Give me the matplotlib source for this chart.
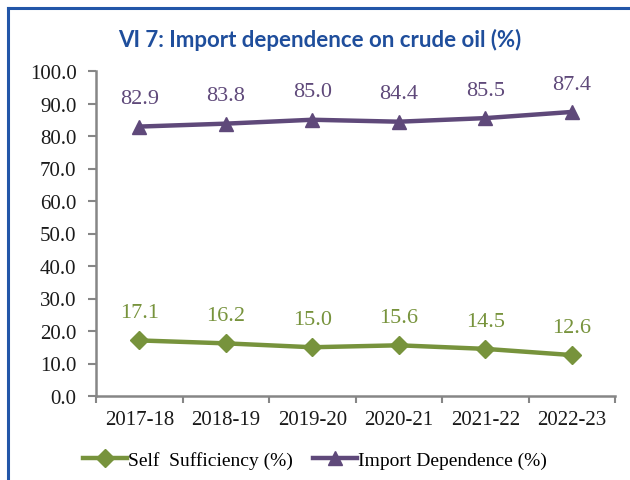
import matplotlib
matplotlib.use('Agg')
import matplotlib.pyplot as plt
from matplotlib.lines import Line2D

years = ['2017-18', '2018-19', '2019-20', '2020-21', '2021-22', '2022-23']
self_sufficiency = [17.1, 16.2, 15.0, 15.6, 14.5, 12.6]
import_dependence = [82.9, 83.8, 85.0, 84.4, 85.5, 87.4]
yticks = [0, 10, 20, 30, 40, 50, 60, 70, 80, 90, 100]

green = '#77933C'
purple = '#5F497A'
axis_grey = '#868686'
serif = 'Liberation Serif'

fig = plt.figure(figsize=(6.3, 4.81), dpi=100)
ax = fig.add_axes([96/630, 1-397/481, 519/630, 325/481])

x = list(range(len(years)))
ax.plot(x, self_sufficiency, color=green, lw=3.2, marker='D', ms=9,
        label='Self  Sufficiency (%)', solid_joinstyle='round')
ax.plot(x, import_dependence, color=purple, lw=3.2, marker='^', ms=10,
        label='Import Dependence (%)', solid_joinstyle='round')

for i, v in enumerate(self_sufficiency):
    ax.annotate(f'{v:.1f}', (i, v), xytext=(0, 20), textcoords='offset points',
                ha='center', va='center', color=green, family=serif, fontsize=16)
for i, v in enumerate(import_dependence):
    ax.annotate(f'{v:.1f}', (i, v), xytext=(0, 20), textcoords='offset points',
                ha='center', va='center', color=purple, family=serif, fontsize=16)

ax.set_xlim(-0.5, len(years) - 0.5)
ax.set_ylim(0, 100)
ax.set_yticks(yticks)
ax.set_yticklabels([f'{v:.1f}' for v in yticks])
ax.set_xticks(x)
ax.set_xticklabels(years)
ax.set_xticks([i - 0.5 for i in range(len(years) + 1)], minor=True)
ax.tick_params(axis='x', which='major', length=0, pad=10)
ax.tick_params(axis='x', which='minor', length=5, width=1.5, color=axis_grey, direction='out')
ax.tick_params(axis='y', length=6, width=1.5, color=axis_grey, pad=8)
for lbl in ax.get_xticklabels() + ax.get_yticklabels():
    lbl.set_family(serif)
    lbl.set_fontsize(15)
    lbl.set_color('#1a1a1a')

for s in ['top', 'right']:
    ax.spines[s].set_visible(False)
for s in ['left', 'bottom']:
    ax.spines[s].set_color(axis_grey)
    ax.spines[s].set_linewidth(1.8)

leg = fig.legend(loc='center', bbox_to_anchor=(0.5, 1-461/481), ncol=2, frameon=False,
                 prop={'family': serif, 'size': 14}, handlelength=2.3,
                 handletextpad=0.05, columnspacing=1.0)

fig.text(0.508, 1-40/481, 'VI 7: Import dependence on crude oil (%)', ha='center', va='center',
         color='#1F4E9C', fontsize=16, fontweight='bold', family='Lato')

# blue frame around the panel
fig.add_artist(Line2D([8/630, 8/630], [0, 1-9/481], transform=fig.transFigure,
                      color='#2356A8', lw=2.2))
fig.add_artist(Line2D([8/630, 1], [1-9/481, 1-9/481], transform=fig.transFigure,
                      color='#2356A8', lw=2.2))

fig.savefig('out.png', dpi=100)
